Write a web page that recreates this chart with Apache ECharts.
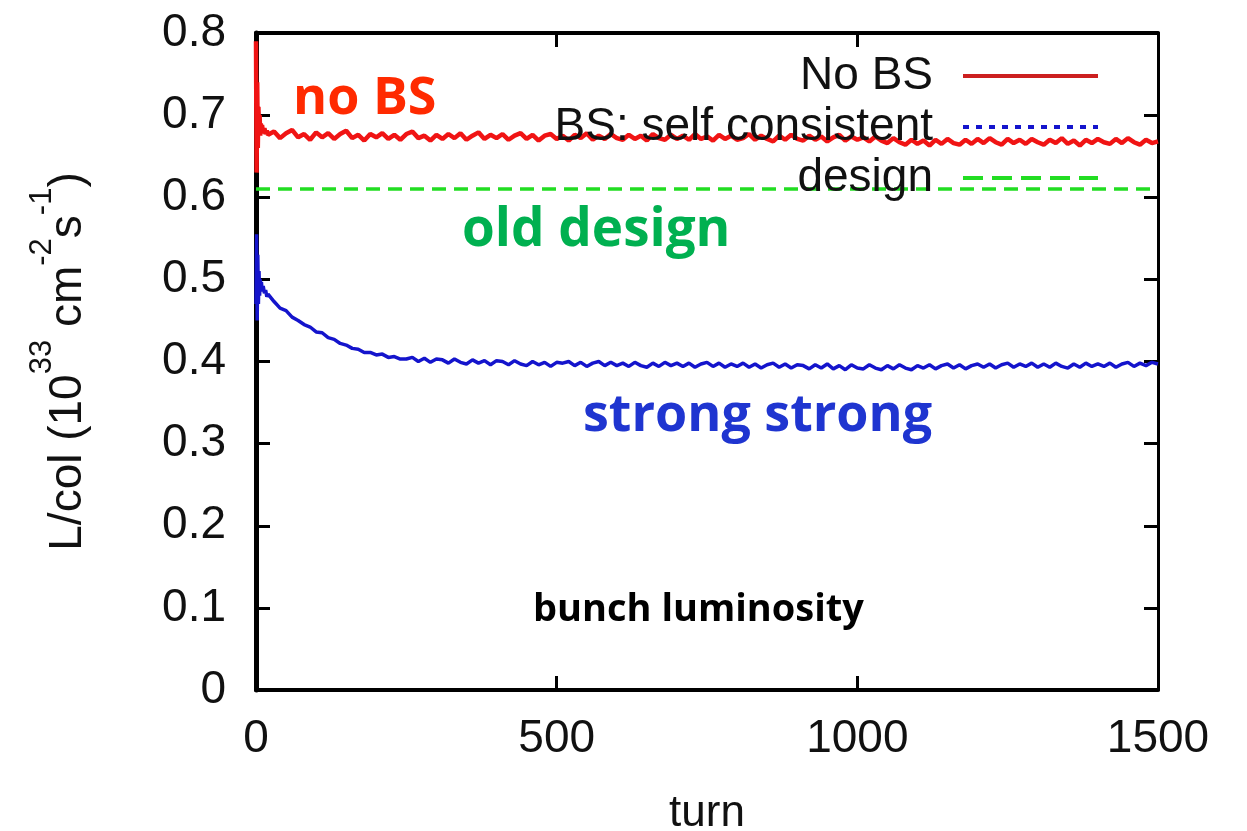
<!DOCTYPE html>
<html>
<head>
<meta charset="utf-8">
<script src="https://cdn.jsdelivr.net/npm/echarts@6/dist/echarts.min.js"></script>
<style>
html,body{margin:0;padding:0;background:#fff;overflow:hidden;}
#chart{width:1247px;height:831px;}
</style>
</head>
<body>
<div id="chart"></div>
<script>
// ---- data ----
const turns = [0,1,2,3,4,5,6,7,8,9,10,12,14,16,18,20,
  30,40,50,60,70,80,90,100,
  110,120,130,140,150,160,170,180,190,200,
  210,220,230,240,250,260,270,280,290,300,
  310,320,330,340,350,360,370,380,390,400,
  410,420,430,440,450,460,470,480,490,500,
  510,520,530,540,550,560,570,580,590,600,
  610,620,630,640,650,660,670,680,690,700,
  710,720,730,740,750,760,770,780,790,800,
  810,820,830,840,850,860,870,880,890,900,
  910,920,930,940,950,960,970,980,990,1000,
  1010,1020,1030,1040,1050,1060,1070,1080,1090,1100,
  1110,1120,1130,1140,1150,1160,1170,1180,1190,1200,
  1210,1220,1230,1240,1250,1260,1270,1280,1290,1300,
  1310,1320,1330,1340,1350,1360,1370,1380,1390,1400,
  1410,1420,1430,1440,1450,1460,1470,1480,1490,1500];

const noBS = [0.79,0.63,0.74,0.66,0.71,0.685,0.70,0.675,0.69,0.68,0.688,0.678,0.684,0.677,0.681,0.676,
  0.680,0.672,0.678,0.682,0.673,0.677,0.670,0.679,
  0.673,0.678,0.671,0.677,0.681,0.672,0.676,0.669,0.677,0.673,
  0.678,0.671,0.676,0.670,0.677,0.680,0.672,0.675,0.669,0.676,
  0.671,0.677,0.672,0.678,0.670,0.675,0.679,0.671,0.676,0.672,
  0.677,0.670,0.675,0.678,0.671,0.676,0.669,0.675,0.677,0.671,
  0.675,0.669,0.676,0.672,0.678,0.670,0.675,0.671,0.677,0.672,
  0.670,0.676,0.671,0.675,0.669,0.677,0.672,0.670,0.676,0.671,
  0.675,0.670,0.677,0.671,0.674,0.669,0.676,0.671,0.675,0.670,
  0.672,0.677,0.670,0.675,0.671,0.668,0.675,0.670,0.676,0.671,
  0.669,0.675,0.670,0.674,0.668,0.673,0.676,0.669,0.674,0.670,
  0.673,0.668,0.674,0.669,0.666,0.672,0.667,0.664,0.670,0.665,
  0.669,0.663,0.670,0.665,0.671,0.666,0.664,0.670,0.665,0.671,
  0.666,0.672,0.667,0.664,0.671,0.666,0.670,0.665,0.671,0.667,
  0.664,0.670,0.666,0.672,0.665,0.669,0.663,0.670,0.666,0.671,
  0.667,0.665,0.671,0.666,0.672,0.667,0.664,0.670,0.666,0.668];

const selfConsistent = [0.47,0.555,0.45,0.53,0.47,0.51,0.48,0.50,0.485,0.497,0.488,0.492,0.483,0.487,0.479,0.482,
  0.473,0.465,0.462,0.454,0.450,0.445,0.442,0.436,
  0.435,0.429,0.427,0.422,0.420,0.416,0.415,0.411,0.411,0.408,
  0.409,0.405,0.406,0.403,0.403,0.405,0.400,0.404,0.399,0.403,
  0.402,0.398,0.403,0.399,0.397,0.402,0.398,0.401,0.396,0.401,
  0.400,0.396,0.401,0.397,0.395,0.400,0.396,0.399,0.394,0.399,
  0.398,0.400,0.395,0.399,0.394,0.398,0.400,0.395,0.399,0.395,
  0.398,0.394,0.399,0.395,0.393,0.398,0.394,0.399,0.395,0.398,
  0.394,0.398,0.393,0.397,0.399,0.394,0.398,0.393,0.397,0.394,
  0.398,0.393,0.397,0.392,0.396,0.398,0.393,0.397,0.392,0.396,
  0.395,0.391,0.396,0.392,0.397,0.391,0.395,0.390,0.396,0.392,
  0.391,0.396,0.392,0.390,0.395,0.391,0.396,0.392,0.390,0.395,
  0.392,0.396,0.391,0.395,0.397,0.392,0.396,0.391,0.395,0.397,
  0.393,0.397,0.392,0.396,0.398,0.393,0.397,0.394,0.398,0.393,
  0.397,0.393,0.398,0.394,0.392,0.397,0.393,0.398,0.394,0.397,
  0.394,0.398,0.393,0.397,0.399,0.394,0.398,0.395,0.399,0.397];

const designTurns = [0, 1500];
const designValues = [0.61, 0.61];

const seriesNames = ['No BS', 'BS: self consistent', 'design'];
const xTicks = [0, 500, 1000, 1500];
const yTicks = [0, 0.1, 0.2, 0.3, 0.4, 0.5, 0.6, 0.7, 0.8];

// ---- chart ----
const chart = echarts.init(document.getElementById('chart'), null, {renderer: 'canvas', width: 1247, height: 831});
const axisFont = 'Liberation Sans, Arial, sans-serif';
const annFont = 'Open Sans, sans-serif';

const pairs = (xs, ys) => xs.map((x, i) => [x, ys[i]]);

const option = {
  animation: false,
  backgroundColor: '#ffffff',
  grid: {left: 256, right: 89, top: 33, bottom: 141, containLabel: false, outerBoundsMode: 'none'},
  xAxis: [{
    type: 'value', min: xTicks[0], max: xTicks[xTicks.length - 1], interval: 500,
    position: 'bottom',
    name: 'turn', nameLocation: 'middle', nameGap: 102,
    nameTextStyle: {fontFamily: axisFont, fontSize: 44, color: '#111'},
    axisLine: {show: true, onZero: false, lineStyle: {color: '#000', width: 4}},
    axisTick: {show: true, inside: true, length: 14, lineStyle: {color: '#000', width: 3}},
    axisLabel: {fontFamily: axisFont, fontSize: 46, color: '#111', margin: 26,
      formatter: v => String(v)},
    splitLine: {show: false}
  }, {
    type: 'value', min: xTicks[0], max: xTicks[xTicks.length - 1], interval: 500,
    position: 'top',
    axisLine: {show: true, onZero: false, lineStyle: {color: '#000', width: 4}},
    axisTick: {show: true, inside: true, length: 14, lineStyle: {color: '#000', width: 3}},
    axisLabel: {show: false},
    splitLine: {show: false}
  }],
  yAxis: [{
    type: 'value', min: yTicks[0], max: yTicks[yTicks.length - 1], interval: 0.1,
    position: 'left',
    name: '{a|L/col (10}{s|33}{a| cm}{s|-2}{a|s}{s|-1}{a|)}',
    nameLocation: 'middle', nameRotate: 90, nameGap: 165,
    nameTextStyle: {
      rich: {
        a: {fontFamily: axisFont, fontSize: 46, color: '#111', lineHeight: 64, verticalAlign: 'bottom'},
        s: {fontFamily: axisFont, fontSize: 31, color: '#111', lineHeight: 34, verticalAlign: 'top'}
      }
    },
    axisLine: {show: true, onZero: false, lineStyle: {color: '#000', width: 5}},
    axisTick: {show: true, inside: true, length: 14, lineStyle: {color: '#000', width: 3}},
    axisLabel: {fontFamily: axisFont, fontSize: 46, color: '#111', margin: 30,
      formatter: v => (v === 0 ? '0' : v.toFixed(1))},
    splitLine: {show: false}
  }, {
    type: 'value', min: yTicks[0], max: yTicks[yTicks.length - 1], interval: 0.1,
    position: 'right',
    axisLine: {show: true, onZero: false, lineStyle: {color: '#000', width: 3}},
    axisTick: {show: true, inside: true, length: 14, lineStyle: {color: '#000', width: 3}},
    axisLabel: {show: false},
    splitLine: {show: false}
  }],
  legend: {
    orient: 'vertical', align: 'right', right: 147, top: 52,
    padding: 0, itemGap: 3, itemWidth: 135, itemHeight: 14,
    textStyle: {fontFamily: axisFont, fontSize: 46, color: '#111', lineHeight: 48, padding: [0, 25, 0, 0]},
    itemStyle: {opacity: 0},
    data: [
      {name: seriesNames[0], itemStyle: {opacity: 0}, lineStyle: {color: '#cc1f1f', width: 4, type: 'solid'}},
      {name: seriesNames[1], itemStyle: {opacity: 0}, lineStyle: {color: '#1414cc', width: 4, type: [6, 7]}},
      {name: seriesNames[2], itemStyle: {opacity: 0}, lineStyle: {color: '#22dd22', width: 4, type: [20, 9]}}
    ]
  },
  series: [{
    name: seriesNames[0], type: 'line', symbol: 'none', showSymbol: false,
    data: pairs(turns, noBS),
    lineStyle: {color: '#f01414', width: 4.5},
    itemStyle: {color: '#f01414'},
    z: 3
  }, {
    name: seriesNames[1], type: 'line', symbol: 'none', showSymbol: false,
    data: pairs(turns, selfConsistent),
    lineStyle: {color: '#1414cc', width: 3.5},
    itemStyle: {color: '#1414cc'},
    z: 3
  }, {
    name: seriesNames[2], type: 'line', symbol: 'none', showSymbol: false,
    data: pairs(designTurns, designValues),
    lineStyle: {color: '#22dd22', width: 3.5, type: [14, 8]},
    itemStyle: {color: '#22dd22'},
    z: 2
  }],
  graphic: [
    {type: 'text', left: 293, top: 109 - 36, style: {text: 'no BS', font: 'bold 52px ' + annFont, fill: '#ff2a00'}},
    {type: 'text', left: 462, top: 240 - 36, style: {text: 'old design', font: 'bold 53px ' + annFont, fill: '#00b050'}},
    {type: 'text', left: 583, top: 426 - 36, style: {text: 'strong strong', font: 'bold 52px ' + annFont, fill: '#1f35d0'}},
    {type: 'text', left: 533, top: 617 - 26, style: {text: 'bunch luminosity', font: 'bold 38px ' + annFont, fill: '#000'}}
  ]
};
chart.setOption(option);
</script>
</body>
</html>
